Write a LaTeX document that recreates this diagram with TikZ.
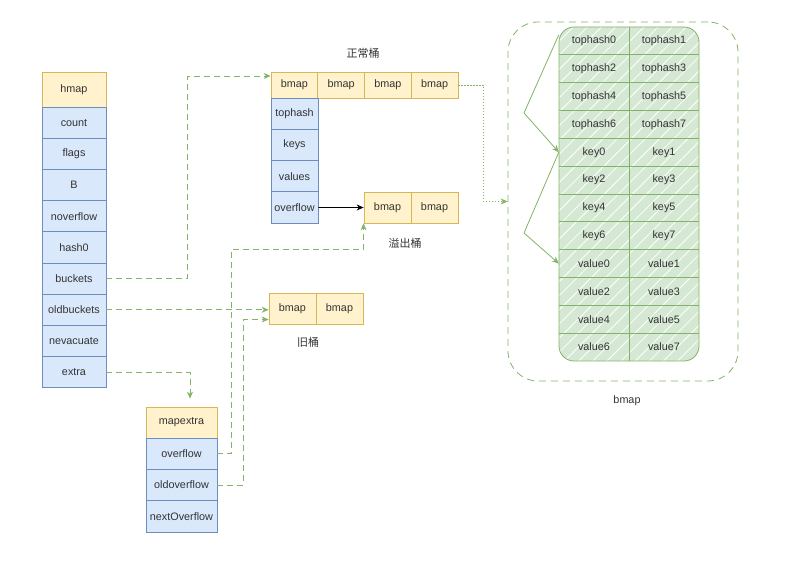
\documentclass[tikz,border=0pt]{standalone}
\usepackage{fontspec}
\setmainfont{Liberation Sans}
\newfontfamily\cjk{Noto Sans CJK SC}
\usetikzlibrary{arrows.meta,patterns.meta}

\definecolor{hdrfill}{HTML}{FFF2CC}
\definecolor{hdrline}{HTML}{D6B656}
\definecolor{fldfill}{HTML}{DAE8FC}
\definecolor{fldline}{HTML}{6C8EBF}
\definecolor{grnfill}{HTML}{D5E8D4}
\definecolor{grnline}{HTML}{82B366}
\definecolor{txt}{HTML}{333333}

\begin{document}
\begin{tikzpicture}[x=1pt,y=-1pt,
    font=\fontsize{10.8}{13}\selectfont, text=txt,
    hdr/.style={draw=hdrline, fill=hdrfill, line width=0.8pt, inner sep=0pt},
    fld/.style={draw=fldline, fill=fldfill, line width=0.8pt, inner sep=0pt},
    gcell/.style={minimum width=70pt, minimum height=27.8pt, inner sep=0pt},
    link/.style={draw=grnline, line width=0.8pt, dash pattern=on 6pt off 4pt,
        -{Stealth[length=7pt,width=6pt]}},
    brace/.style={draw=grnline, line width=0.8pt, -{Stealth[length=7pt,width=6pt]}}]
    \useasboundingbox (0,0) rectangle (788,572);

    % hmap
    \node[hdr, minimum width=64pt, minimum height=35pt] (h-hmap) at (74,89.5) {hmap};
    \foreach \f [count=\i] in {count,flags,B,noverflow,hash0,buckets,oldbuckets,nevacuate,extra}
        \node[fld, minimum width=64pt, minimum height=31.2pt] (h-\f) at (74,91.4+31.2*\i) {\f};

    % normal buckets
    \foreach \i in {1,...,4}
        \node[hdr, minimum width=46.75pt, minimum height=26pt] (nb\i) at (247.6+46.75*\i,85) {bmap};
    \foreach \f [count=\i] in {tophash,keys,values,overflow}
        \node[fld, minimum width=47pt, minimum height=31.25pt] (b-\f) at (294.5,82.4+31.25*\i) {\f};
    \node[font=\cjk\fontsize{11}{13}\selectfont] (lbl-nb) at (363,53) {正常桶};

    % overflow buckets
    \node[hdr, minimum width=47pt, minimum height=31pt] (ob1) at (387.5,207.5) {bmap};
    \node[hdr, minimum width=47pt, minimum height=31pt] (ob2) at (434.5,207.5) {bmap};
    \node[font=\cjk\fontsize{11}{13}\selectfont] (lbl-ob) at (405,243) {溢出桶};

    % old buckets
    \node[hdr, minimum width=47pt, minimum height=31pt] (old1) at (292.5,308.5) {bmap};
    \node[hdr, minimum width=47pt, minimum height=31pt] (old2) at (339.5,308.5) {bmap};
    \node[font=\cjk\fontsize{11}{13}\selectfont] (lbl-old) at (308,342) {旧桶};

    % mapextra
    \node[hdr, minimum width=71pt, minimum height=31pt] (mx-head) at (181.5,422.5) {mapextra};
    \foreach \f [count=\i] in {overflow,oldoverflow,nextOverflow}
        \node[fld, minimum width=71pt, minimum height=31.33pt] (mx-\f) at (181.5,422.4+31.33*\i) {\f};

    % bmap layout
    \node[draw=grnline, line width=0.8pt, dash pattern=on 7pt off 5pt, rounded corners=30pt,
        minimum width=230pt, minimum height=359pt] (bmapbox) at (623,201.5) {};
    \node (lbl-bmap) at (627,401) {bmap};
    \fill[grnfill, rounded corners=15pt] (559,27) rectangle (699,361);
    \fill[pattern={Lines[angle=45,distance=10pt,line width=0.8pt]}, pattern color=white,
        rounded corners=15pt] (559,27) rectangle (699,361);
    \draw[grnline, line width=0.8pt] (629,27) -- (629,361);
    \foreach \r in {1,...,11}
        \draw[grnline, line width=0.8pt] (559,27+27.83*\r) -- (699,27+27.83*\r);
    \draw[grnline, line width=0.8pt, rounded corners=15pt] (559,27) rectangle (699,361);
    \foreach \lbl [count=\i from 0] in {tophash0,tophash2,tophash4,tophash6,key0,key2,key4,key6,value0,value2,value4,value6}
        \node[gcell] (gl\i) at (594,40.9+27.83*\i) {\lbl};
    \foreach \lbl [count=\i from 0] in {tophash1,tophash3,tophash5,tophash7,key1,key3,key5,key7,value1,value3,value5,value7}
        \node[gcell] (gr\i) at (664,40.9+27.83*\i) {\lbl};
    \coordinate (braceA) at (524,113);
    \coordinate (braceB) at (524,233);
    \draw[brace] ([yshift=-8pt]gl0.north west) -- (braceA) -- (gl4.west);
    \draw[brace] (gl4.west) -- (braceB) -- (gl8.west);

    % pointers
    \draw[link] (h-buckets.east) -| ([xshift=-83pt,yshift=9pt]nb1.west) -- ([yshift=9pt]nb1.west);
    \draw[link] (h-oldbuckets.east) -- (h-oldbuckets.east -| old1.west);
    \draw[link] (h-extra.east) -| ([xshift=8.5pt,yshift=8pt]mx-head.north);
    \draw[link] (mx-overflow.east) -- ++(14,0) |- ([yshift=-26pt]ob1.south west) -- (ob1.south west);
    \draw[link] (mx-oldoverflow.east) -- ++(26,0) |- ([yshift=-11pt]old1.west);
    \draw[line width=0.8pt, -{Stealth[length=7pt,width=6pt]}] (b-overflow.east) -- (ob1.west);
    \draw[link, dash pattern=on 1.5pt off 1.5pt] (nb4.east) -- ++(25,0) |- (bmapbox.west);
\end{tikzpicture}
\end{document}
